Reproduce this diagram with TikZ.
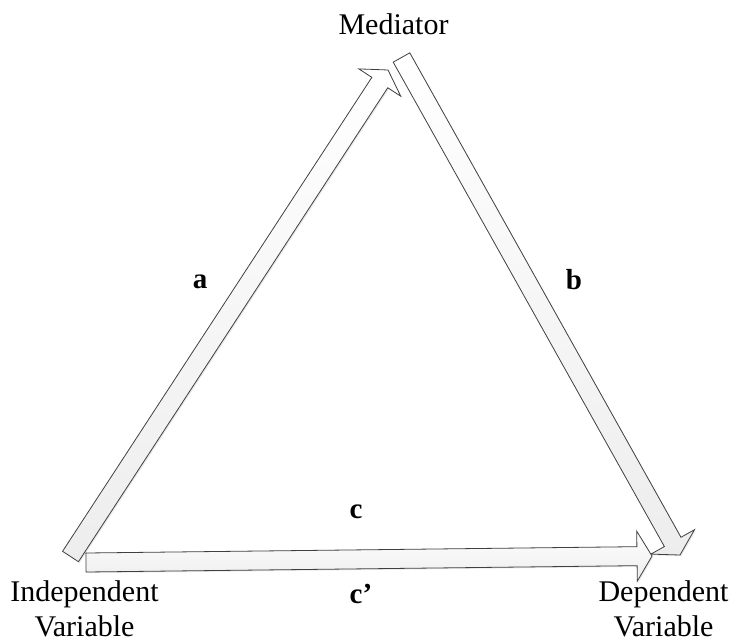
\documentclass[tikz,border=0pt]{standalone}
\usepackage{fontspec}
\setmainfont{Liberation Serif}
\usetikzlibrary{calc, shadows}

% block arrow from tail #2 to tip #3, head base named #1h
\newcommand{\blockarrow}[3]{%
  \coordinate (#1h) at ($(#3)!15pt!(#2)$);
  \path[fatarrow] ($(#2)!9.5pt!90:(#3)$) -- ($(#1h)!9.5pt!90:(#3)$)
    -- ($(#1h)!25pt!90:(#3)$) -- (#3) -- ($(#1h)!25pt!-90:(#3)$)
    -- ($(#1h)!9.5pt!-90:(#3)$) -- ($(#2)!9.5pt!-90:(#3)$) -- cycle;
}

\begin{document}
\begin{tikzpicture}[
    x=1pt, y=-1pt,
    every node/.style={inner sep=0pt, font=\fontsize{30}{35}\selectfont},
    varname/.style={align=center, anchor=north},
    pathlabel/.style={anchor=base, font=\fontsize{29}{34}\selectfont\bfseries},
    fatarrow/.style={draw=black!75, line width=0.8pt, line join=miter,
        top color=white, bottom color=black!7,
        drop shadow={opacity=0.18, shadow xshift=1.2pt, shadow yshift=-1.2pt}}
]
\useasboundingbox (0,0) rectangle (733,642);

% Nodes
\node[anchor=base] (med) at (393.5,35) {Mediator};

\node[varname] (indep) at (84.5,580) {Independent\\Variable};

\node[varname] (dep) at (663.5,580) {Dependent\\Variable};

% Arrow ends
\coordinate (aTail) at (70.5,556.5);
\coordinate (aTip) at (388,70);
\coordinate (bTail) at (401.5,57.5);
\coordinate (bTip) at (680,555);
\coordinate (cTail) at (86,562.5);
\coordinate (cTip) at (652,556);

% Arrows
\blockarrow{a}{aTail}{aTip}

\blockarrow{b}{bTail}{bTip}

\blockarrow{c}{cTail}{cTip}

% Path labels
\node[pathlabel] (la) at (200,288) {a};

\node[pathlabel] (lb) at (574,289) {b};

\node[pathlabel] (lc) at (356,518) {c};

\node[pathlabel] (lcp) at (361,603) {c’};

\end{tikzpicture}
\end{document}
